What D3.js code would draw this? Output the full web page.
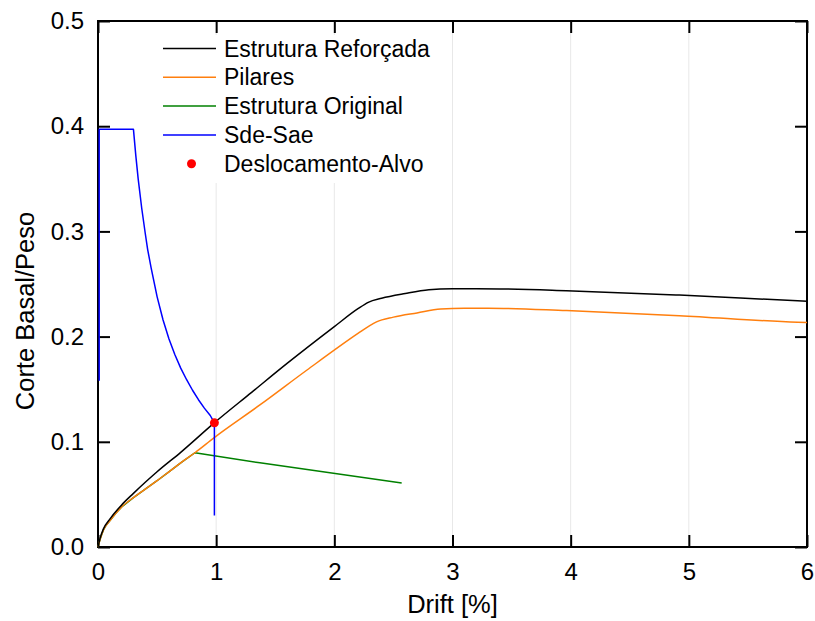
<!DOCTYPE html>
<html>
<head>
<meta charset="utf-8">
<script src="https://cdn.jsdelivr.net/npm/d3@7"></script>
<style>
  body { margin: 0; background: #fff; }
  svg { font-family: "Liberation Sans", Arial, sans-serif; }
</style>
</head>
<body>
<svg id="chart" width="815" height="621"></svg>
<script>
// --- data ---
const xTicks = [0, 1, 2, 3, 4, 5, 6];
const yTicks = [0, 0.1, 0.2, 0.3, 0.4, 0.5];

const reforcadaX = [0, 0.017, 0.045, 0.1, 0.2, 0.3, 0.4, 0.5, 0.7, 0.984, 1.3, 1.6, 2.0, 2.2, 2.287, 2.4, 2.6, 2.8, 3.0, 3.2, 3.965, 4.92, 5.92, 6.0];
const reforcadaY = [0, 0.008, 0.017, 0.0265, 0.040, 0.051, 0.0615, 0.0715, 0.090, 0.118, 0.147, 0.1745, 0.2095, 0.2265, 0.2326, 0.2365, 0.241, 0.2445, 0.2455, 0.2456, 0.2437, 0.2395, 0.234, 0.2336];

const pilaresX = [0, 0.017, 0.045, 0.1, 0.2, 0.3, 0.4, 0.5, 0.6, 0.7, 0.82, 0.984, 1.37, 1.766, 2.2, 2.3, 2.357, 2.5, 2.7, 2.9, 3.1, 3.3, 3.965, 4.92, 5.92, 6.0];
const pilaresY = [0, 0.007, 0.016, 0.025, 0.038, 0.047, 0.055, 0.063, 0.0715, 0.080, 0.0896, 0.104, 0.135, 0.168, 0.203, 0.2105, 0.214, 0.2185, 0.2225, 0.2262, 0.2270, 0.2270, 0.2247, 0.2199, 0.2136, 0.2133];

const originalX = [0, 0.008, 0.017, 0.03, 0.045, 0.07, 0.1, 0.15, 0.2, 0.3, 0.4, 0.5, 0.6, 0.7, 0.82, 1.37, 2.57];
const originalY = [0, 0.0035, 0.007, 0.0115, 0.016, 0.021, 0.025, 0.032, 0.038, 0.047, 0.055, 0.063, 0.0715, 0.080, 0.0896, 0.080, 0.0608];

const sdeSaeX = [0.01, 0.01, 0.30, 0.32, 0.34, 0.37, 0.40, 0.42, 0.45, 0.50, 0.55, 0.60, 0.65, 0.70, 0.75, 0.80, 0.85, 0.90, 0.95, 0.985, 0.985];
const sdeSaeY = [0.158, 0.397, 0.397, 0.372, 0.35, 0.322, 0.298, 0.283, 0.265, 0.238, 0.216, 0.198, 0.183, 0.17, 0.159, 0.149, 0.14, 0.132, 0.125, 0.118, 0.03];

const alvoX = [0.985];
const alvoY = [0.118];

const legendLabels = ["Estrutura Reforçada", "Pilares", "Estrutura Original", "Sde-Sae", "Deslocamento-Alvo"];
const legendColors = ["#000000", "#ff7f0e", "#008000", "#0000ff", "#ff0000"];

// --- layout ---
const margin = { left: 98, top: 21, right: 8, bottom: 74 };
const width = 815 - margin.left - margin.right;
const height = 621 - margin.top - margin.bottom;

const svg = d3.select("#chart");
const g = svg.append("g").attr("transform", `translate(${margin.left},${margin.top})`);

const x = d3.scaleLinear().domain([0, 6]).range([0, width]);
const y = d3.scaleLinear().domain([0, 0.5]).range([height, 0]);

// vertical grid
g.append("g")
  .selectAll("line")
  .data(xTicks.slice(1, -1))
  .join("line")
  .attr("x1", d => x(d)).attr("x2", d => x(d))
  .attr("y1", 0).attr("y2", height)
  .attr("stroke", "#e8e8e8")
  .attr("stroke-width", 1);

// legend background (hides grid behind it)
const legend = g.append("g").attr("transform", "translate(55,14)");
legend.append("rect")
  .attr("x", 0).attr("y", 0)
  .attr("width", 290).attr("height", 148)
  .attr("fill", "white");

// axes (inward ticks on all four sides)
const tickLen = 12;
const axB = g.append("g").attr("transform", `translate(0,${height})`)
  .call(d3.axisBottom(x).tickValues(xTicks).tickFormat(d3.format("d")).tickSize(-tickLen).tickPadding(16));
const axL = g.append("g")
  .call(d3.axisLeft(y).tickValues(yTicks).tickFormat(d3.format(".1f")).tickSize(-tickLen).tickPadding(14));
const axT = g.append("g")
  .call(d3.axisTop(x).tickValues(xTicks).tickFormat("").tickSize(-tickLen));
const axR = g.append("g").attr("transform", `translate(${width},0)`)
  .call(d3.axisRight(y).tickValues(yTicks).tickFormat("").tickSize(-tickLen));

[axB, axL, axT, axR].forEach(a => {
  a.select(".domain").remove();
  a.selectAll(".tick line").attr("stroke", "#000").attr("stroke-width", 2);
  a.selectAll(".tick text")
    .attr("font-size", 24)
    .attr("font-family", "Liberation Sans, Arial, sans-serif")
    .attr("fill", "#000");
});

// frame
g.append("rect")
  .attr("x", 0).attr("y", 0)
  .attr("width", width).attr("height", height)
  .attr("fill", "none")
  .attr("stroke", "#000")
  .attr("stroke-width", 2);

// curves (drawn over the frame, as in the reference)
const zip = (a, b) => a.map((v, i) => [v, b[i]]);
const smooth = d3.line().x(d => x(d[0])).y(d => y(d[1])).curve(d3.curveMonotoneX);
const straight = d3.line().x(d => x(d[0])).y(d => y(d[1]));

const series = [
  [zip(originalX, originalY), legendColors[2], straight],
  [zip(pilaresX, pilaresY), legendColors[1], smooth],
  [zip(reforcadaX, reforcadaY), legendColors[0], smooth],
  [zip(sdeSaeX, sdeSaeY), legendColors[3], straight]
];
series.forEach(([pts, color, gen]) => {
  g.append("path")
    .attr("d", gen(pts))
    .attr("fill", "none")
    .attr("stroke", color)
    .attr("stroke-width", 1.5)
    .attr("stroke-linejoin", "round");
});

g.selectAll("circle.alvo")
  .data(zip(alvoX, alvoY))
  .join("circle")
  .attr("class", "alvo")
  .attr("cx", d => x(d[0]))
  .attr("cy", d => y(d[1]))
  .attr("r", 4.5)
  .attr("fill", legendColors[4]);

// legend rows
const rowH = 28.8;
legendLabels.forEach((label, i) => {
  const cy = 13.5 + i * rowH;
  if (i < 4) {
    legend.append("line")
      .attr("x1", 10).attr("x2", 63)
      .attr("y1", cy).attr("y2", cy)
      .attr("stroke", legendColors[i])
      .attr("stroke-width", 1.5);
  } else {
    legend.append("circle")
      .attr("cx", 38.5).attr("cy", cy).attr("r", 4.5)
      .attr("fill", legendColors[i]);
  }
  legend.append("text")
    .attr("x", 71).attr("y", cy)
    .attr("dy", "0.35em")
    .attr("font-size", 23)
    .attr("fill", "#000")
    .text(label);
});

// axis titles
svg.append("text")
  .attr("x", margin.left + width / 2)
  .attr("y", 613)
  .attr("text-anchor", "middle")
  .attr("font-size", 25.5)
  .text("Drift [%]");

svg.append("text")
  .attr("transform", "translate(34,311) rotate(-90)")
  .attr("text-anchor", "middle")
  .attr("font-size", 25.5)
  .text("Corte Basal/Peso");
</script>
</body>
</html>
